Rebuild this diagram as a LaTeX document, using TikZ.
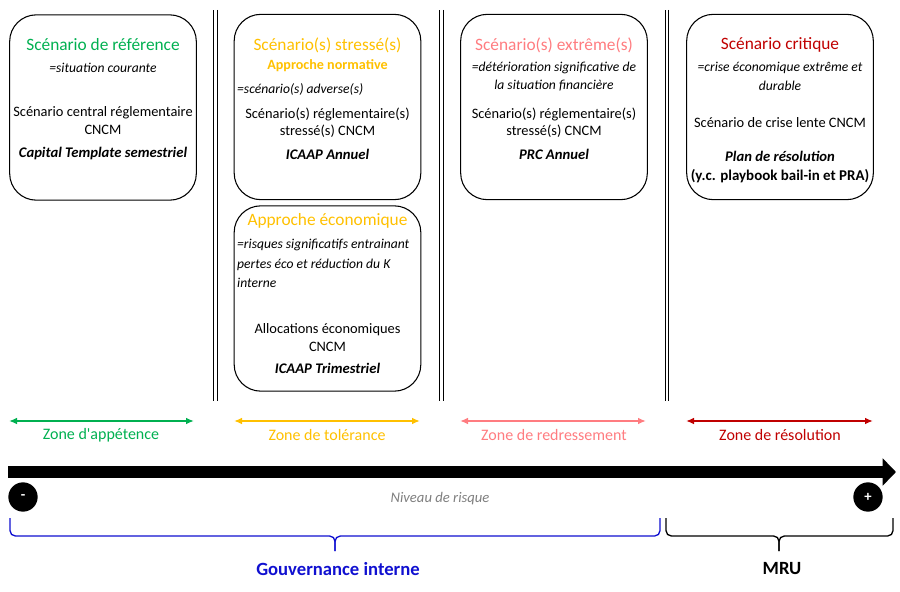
\documentclass[tikz,border=0pt]{standalone}
\usepackage{fontspec}
\setmainfont{Carlito}
\usetikzlibrary{arrows.meta}
\definecolor{zref}{HTML}{00B050}
\definecolor{zstress}{HTML}{FFC000}
\definecolor{zextr}{HTML}{FF7C80}
\definecolor{zcrit}{HTML}{C00000}
\definecolor{zgouv}{HTML}{1010D0}
\definecolor{zniv}{HTML}{7F7F7F}

\begin{document}
\begin{tikzpicture}[x=0.75pt,y=-0.75pt,
  scenbox/.style={draw,line width=.8pt,rounded corners=20pt,minimum width=140pt,minimum height=139pt},
  titre/.style={font=\fontsize{13}{15}\selectfont},
  corps/.style={font=\fontsize{10.8}{12}\selectfont},
  glose/.style={font=\fontsize{10.2}{12}\selectfont\itshape},
  gras/.style={font=\fontsize{11}{13}\selectfont\bfseries\itshape},
  zone/.style={line width=1.2pt,{Latex[length=6pt,width=5pt]}-{Latex[length=6pt,width=5pt]}},
  zonelab/.style={font=\fontsize{12}{14}\selectfont},
  sep/.style={double,double distance=2pt,line width=.7pt},
  pole/.style={circle,fill=black,text=white,minimum size=22pt,inner sep=0pt,font=\fontsize{11}{13}\selectfont\bfseries},
  accol/.style={line width=1pt,rounded corners=4pt}]
\path[use as bounding box] (0,0) rectangle (900,592);
% separateurs
\coordinate (s1t) at (215.5,10); \coordinate (s1b) at (215.5,401);
\coordinate (s2t) at (441.5,10); \coordinate (s2b) at (441.5,401);
\coordinate (s3t) at (667,10); \coordinate (s3b) at (667,401);
\draw[sep] (s1t)--(s1b);
\draw[sep] (s2t)--(s2b);
\draw[sep] (s3t)--(s3b);
% scenario de reference
\node[scenbox] (bref) at (103,107.5) {};
\node[titre,text=zref] (tref) at (103,45) {Scénario de référence};
\node[glose] (gref) at (103,68) {=situation courante};
\node[corps] (cref1) at (103,113) {Scénario central réglementaire};
\node[corps] (cref2) at (103,130) {CNCM};
\node[gras] (pref) at (103,154) {Capital Template semestriel};
% scenario stresse, approche normative
\node[scenbox] (bstr) at (327.5,107) {};
\node[titre,text=zstress] (tstr) at (327.5,45) {Scénario(s) stressé(s)};
\node[text=zstress,font=\fontsize{10.6}{12}\selectfont\bfseries] (nstr) at (327.5,66) {Approche normative};
\node[glose,anchor=west] (gstr) at (232.5,89) {=scénario(s) adverse(s)};
\node[corps] (cstr1) at (327.5,114) {Scénario(s) réglementaire(s)};
\node[corps] (cstr2) at (327.5,131) {stressé(s) CNCM};
\node[gras] (pstr) at (327.5,154) {ICAAP Annuel};
% approche economique
\node[scenbox] (beco) at (327.5,298.5) {};
\node[titre,text=zstress] (teco) at (327.5,221) {Approche économique};
\node[glose,anchor=west] (geco1) at (232.5,245) {=risques significatifs entrainant};
\node[glose,anchor=west] (geco2) at (232.5,265) {pertes éco et réduction du K};
\node[glose,anchor=west] (geco3) at (232.5,283) {interne};
\node[corps] (ceco1) at (327.5,330) {Allocations économiques};
\node[corps] (ceco2) at (327.5,347) {CNCM};
\node[gras] (peco) at (327.5,368) {ICAAP Trimestriel};
% scenario extreme
\node[scenbox] (bext) at (554,107) {};
\node[titre,text=zextr] (text) at (554,45) {Scénario(s) extrême(s)};
\node[glose] (gext1) at (554,68) {=détérioration significative de};
\node[glose] (gext2) at (554,86) {la situation financière};
\node[corps] (cext1) at (554,114) {Scénario(s) réglementaire(s)};
\node[corps] (cext2) at (554,131) {stressé(s) CNCM};
\node[gras] (pext) at (554,154) {PRC Annuel};
% scenario critique
\node[scenbox] (bcri) at (780,107) {};
\node[titre,text=zcrit] (tcri) at (780,45) {Scénario critique};
\node[glose] (gcri1) at (780,68) {=crise économique extrême et};
\node[glose] (gcri2) at (780,86) {durable};
\node[corps] (ccri1) at (780,123) {Scénario de crise lente CNCM};
\node[gras] (pcri) at (780,156) {Plan de résolution};
\node[font=\fontsize{11.2}{13}\selectfont\bfseries] (pcri2) at (780,176) {(y.c. playbook bail-in et PRA)};
% zones
\coordinate (za1) at (9,421); \coordinate (za2) at (194,421);
\coordinate (zb1) at (234,421); \coordinate (zb2) at (420,421);
\coordinate (zc1) at (460,421); \coordinate (zc2) at (646,421);
\coordinate (zd1) at (686,421); \coordinate (zd2) at (873,421);
\draw[zone,zref] (za1)--(za2);
\draw[zone,zstress] (zb1)--(zb2);
\draw[zone,zextr] (zc1)--(zc2);
\draw[zone,zcrit] (zd1)--(zd2);
\node[zonelab,text=zref] (lza) at (101,435) {Zone d\textquotesingle appétence};
\node[zonelab,text=zstress] (lzb) at (327,435) {Zone de tolérance};
\node[zonelab,text=zextr] (lzc) at (554,435) {Zone de redressement};
\node[zonelab,text=zcrit] (lzd) at (780,435) {Zone de résolution};
% axe du risque
\coordinate (rg) at (8,472); \coordinate (rd) at (896,472);
\draw[line width=9pt,-{Triangle[length=10pt,width=20pt]}] (rg)--(rd);
\node[pole] (moins) at (23,497) {-};
\node[pole] (plus) at (868,497) {+};
\node[text=zniv,font=\fontsize{11}{13}\selectfont\itshape] (niv) at (440,499) {Niveau de risque};
% gouvernance
\coordinate (ga) at (10,518); \coordinate (gb) at (660,518); \coordinate (gm) at (335,536); \coordinate (gp) at (335,551);
\coordinate (ma) at (666,518); \coordinate (mb) at (893,518); \coordinate (mm) at (779,536); \coordinate (mp) at (779,551);
\draw[accol,zgouv] (ga) |- (gm) -- (gp);
\draw[accol,zgouv] (gb) |- (gm) -- (gp);
\draw[accol] (ma) |- (mm) -- (mp);
\draw[accol] (mb) |- (mm) -- (mp);
\node[text=zgouv,font=\fontsize{14}{16}\selectfont\bfseries] (gouv) at (338,569) {Gouvernance interne};
\node[font=\fontsize{14}{16}\selectfont\bfseries] (mru) at (782,569) {MRU};
\end{tikzpicture}
\end{document}
